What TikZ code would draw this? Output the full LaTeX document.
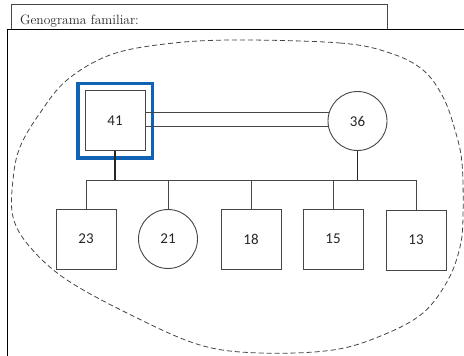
\documentclass[tikz,border=0pt]{standalone}
\usepackage{fontspec}
\newfontfamily\numfont{Carlito}
\definecolor{famblue}{RGB}{16,98,180}
\definecolor{linegray}{RGB}{70,70,70}
\begin{document}
\begin{tikzpicture}[x=1pt,y=-1pt,
  male/.style={draw=linegray,line width=0.9pt,minimum size=60pt,inner sep=0pt,text=black!85,font=\numfont\fontsize{15}{18}\selectfont},
  female/.style={draw=linegray,line width=0.9pt,circle,minimum size=59pt,inner sep=0pt,text=black!85,font=\numfont\fontsize{15}{18}\selectfont},
  link/.style={draw=black!85,line width=1.2pt},
  sib/.style={draw=linegray,line width=0.9pt},
  frame/.style={draw=black,line width=1.2pt},
  boundary/.style={draw=linegray,line width=0.8pt,dash pattern=on 5pt off 3pt}]
\useasboundingbox (0,0) rectangle (464,356);
\clip (0,0) rectangle (464,356);
% header and main frame
\node[frame,draw=linegray,minimum width=376pt,minimum height=25pt,inner sep=0pt,anchor=north west] (hdr) at (11,4) {};
\node[anchor=base west,inner sep=0pt,font=\fontsize{13.5}{16}\selectfont,text=black!85] (title) at (20,24) {Genograma familiar:};
\node[frame,fill=white,minimum width=470pt,minimum height=340pt,inner sep=0pt,anchor=north west] (main) at (7,29) {};
% family boundary
\draw[boundary] plot[smooth cycle,tension=0.6] coordinates {
 (233,40) (340,43) (390,53) (423,70) (443,97) (455,130) (462,163) (463,217)
 (460,247) (448,280) (423,313) (383,335) (333,350) (260,353) (200,345)
 (133,316) (67,280) (30,247) (13,217) (13,180) (20,147) (40,113) (67,80)
 (110,55) (165,44)};
% parents
\node[draw=famblue,line width=3.5pt,minimum size=74.5pt,inner sep=0pt] (idx) at (115,120.5) {};
\node[male,fill=white] (p41) at (115,120.5) {41};
\node[female,fill=white] (p36) at (357.5,121) {36};
\draw[sib] (p41.east |- p36.164) -- (p36.164);
\draw[sib] (p41.east |- p36.191) -- (p36.191);
% children
\node[male] (c23) at (86,239) {23};
\node[female] (c21) at (168,239) {21};
\node[male] (c18) at (251,239) {18};
\node[male] (c15) at (333,239) {15};
\node[male] (c13) at (416,240) {13};
\coordinate (bar) at (250,180);
\draw[link] (p41.south) -- (p41.south |- bar);
\draw[link] (p36.south) -- (p36.south |- bar);
\draw[sib] (c23.north |- bar) -- (c13.north |- bar);
\foreach \c in {c23,c21,c18,c15,c13} \draw[sib] (\c.north |- bar) -- (\c.north);
\end{tikzpicture}
\end{document}
